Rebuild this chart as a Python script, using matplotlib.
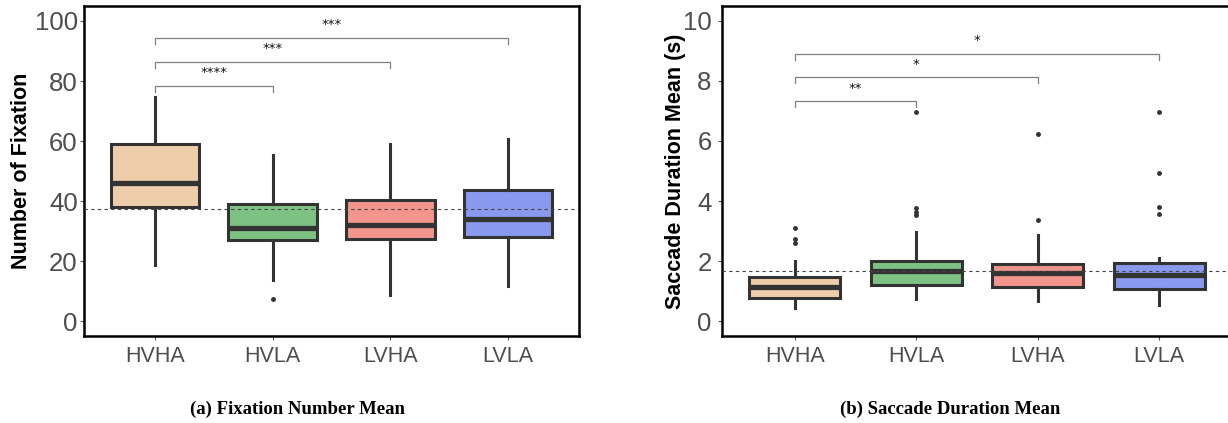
import matplotlib

matplotlib.use("Agg")
import matplotlib.pyplot as plt

# groups and colours
groups = ["HVHA", "HVLA", "LVHA", "LVLA"]
fills = ["#EECDAB", "#7EC283", "#F3958C", "#8899EE"]

# (a) fixation number: box stats
fix_whislo = [18.7, 13.7, 8.7, 11.7]
fix_q1 = [38.1, 27.0, 27.2, 28.0]
fix_med = [45.9, 30.9, 31.9, 34.0]
fix_q3 = [58.9, 39.1, 40.3, 43.7]
fix_whishi = [74.8, 55.3, 58.9, 60.6]
fix_fliers = [[], [7.3], [], []]
fix_ref = 37.2
fix_pairs = [(1, 2), (1, 3), (1, 4)]
fix_pair_y = [78.3, 86.3, 94.3]
fix_pair_lab = ["****", "***", "***"]

# (b) saccade duration mean
sac_whislo = [0.42, 0.72, 0.67, 0.52]
sac_q1 = [0.76, 1.21, 1.14, 1.08]
sac_med = [1.14, 1.68, 1.61, 1.52]
sac_q3 = [1.48, 1.99, 1.90, 1.92]
sac_whishi = [2.01, 2.96, 2.87, 2.11]
sac_fliers = [[3.09, 2.72, 2.61], [6.98, 3.76, 3.64, 3.52], [6.24, 3.37],
              [6.98, 4.93, 3.81, 3.56]]
sac_ref = 1.67
sac_pairs = [(1, 2), (1, 3), (1, 4)]
sac_pair_y = [7.32, 8.12, 8.91]
sac_pair_lab = ["**", "*", "*"]

W, H = 1228, 423
fig = plt.figure(figsize=(W / 100, H / 100), dpi=100)


def px_axes(left, top, right, bottom):
    return fig.add_axes([left / W, 1 - bottom / H, (right - left) / W,
                         (bottom - top) / H])


def panel(ax, lo, q1, med, q3, hi, fliers, ref, pairs, pair_y, labs,
          ylim, yticks, tick_h, ylab_pad):
    stats = []
    for i in range(len(groups)):
        stats.append(dict(whislo=lo[i], q1=q1[i], med=med[i], q3=q3[i],
                          whishi=hi[i], fliers=fliers[i], label=groups[i]))
    dark = "#333333"
    bp = ax.bxp(stats, positions=range(1, 5), widths=0.75, patch_artist=True,
                showcaps=False,
                boxprops=dict(edgecolor=dark, linewidth=2.2),
                medianprops=dict(color=dark, linewidth=3.8, solid_capstyle="butt"),
                whiskerprops=dict(color=dark, linewidth=2.2),
                flierprops=dict(marker="o", markersize=2.5, markerfacecolor=dark,
                                markeredgecolor=dark))
    for patch, c in zip(bp["boxes"], fills):
        patch.set_facecolor(c)
    ax.axhline(ref, color="#444444", lw=0.8, ls=(0, (3, 3)), zorder=5)

    # significance brackets
    for (a, b), y, lab in zip(pairs, pair_y, labs):
        ax.plot([a, a, b, b], [y - tick_h, y, y, y - tick_h], color="#7f7f7f",
                lw=0.9, solid_joinstyle="miter")
        ax.text((a + b) / 2, y + 2.2 * tick_h, lab, ha="center", va="center",
                fontsize=9.5, color="#111111")

    ax.set_xlim(0.4, 4.6)
    ax.set_ylim(*ylim)
    ax.set_yticks(yticks)
    ax.set_xticks(range(1, 5))
    ax.set_xticklabels(groups, family="Liberation Sans", fontsize=15.5,
                       color="#4D4D4D")
    ax.set_yticklabels([str(t) for t in yticks], family="Liberation Sans",
                       fontsize=18.5, color="#4D4D4D")
    ax.tick_params(axis="both", length=3, width=0.8, color="#555555")
    ax.tick_params(axis="y", pad=ylab_pad)
    ax.tick_params(axis="x", pad=4)
    for s in ax.spines.values():
        s.set_linewidth(1.8)
        s.set_color("black")


ax1 = px_axes(84, 6, 579, 336)
panel(ax1, fix_whislo, fix_q1, fix_med, fix_q3, fix_whishi, fix_fliers,
      fix_ref, fix_pairs, fix_pair_y, fix_pair_lab, (-5, 105),
      [0, 20, 40, 60, 80, 100], 2.0, 1.5)

ax2 = px_axes(722, 6, 1232, 336)
panel(ax2, sac_whislo, sac_q1, sac_med, sac_q3, sac_whishi, sac_fliers,
      sac_ref, sac_pairs, sac_pair_y, sac_pair_lab, (-0.5, 10.5),
      [0, 2, 4, 6, 8, 10], 0.2, 4.5)

fig.text(22 / W, 1 - 171 / H, "Number of Fixation", rotation=90,
         ha="center", va="center", fontsize=15.5, fontweight="bold",
         family="Liberation Sans")
fig.text(675 / W, 1 - 171 / H, "Saccade Duration Mean (s)", rotation=90,
         ha="center", va="center", fontsize=15.5, fontweight="bold",
         family="Liberation Sans")

fig.text(298 / W, 1 - 409 / H, "(a) Fixation Number Mean", ha="center",
         va="center", fontsize=13.5, fontweight="bold", family="Liberation Serif")
fig.text(950 / W, 1 - 409 / H, "(b) Saccade Duration Mean", ha="center",
         va="center", fontsize=13.5, fontweight="bold", family="Liberation Serif")

fig.savefig("out.png", dpi=100)
